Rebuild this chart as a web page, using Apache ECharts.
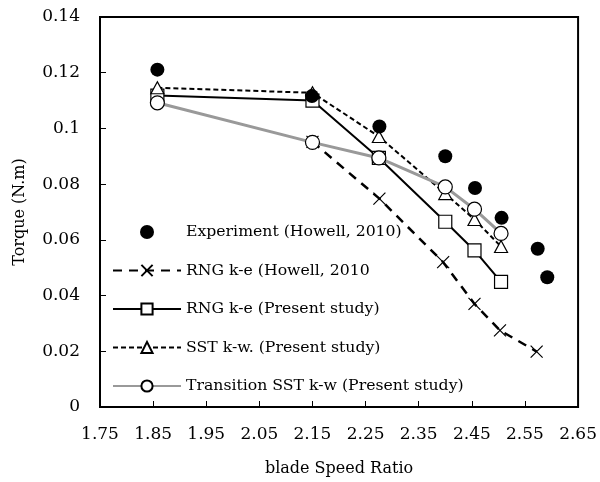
<!DOCTYPE html>
<html>
<head>
<meta charset="utf-8">
<script src="https://cdn.jsdelivr.net/npm/echarts@6/dist/echarts.min.js"></script>
<style>
  html, body { margin: 0; padding: 0; background: #fff; }
  #chart { width: 600px; height: 482px; }
</style>
</head>
<body>
<div id="chart"></div>
<script>
// Torque against blade speed ratio: measurements and four CFD models
const FONT = 'DejaVu Serif';

const expX = [1.858, 2.149, 2.276, 2.400, 2.456, 2.506, 2.574, 2.592];
const expY = [0.1211, 0.1116, 0.1007, 0.0900, 0.0786, 0.0679, 0.0568, 0.0466];

const howellX = [2.150, 2.276, 2.396, 2.455, 2.503, 2.572];
const howellY = [0.0952, 0.0748, 0.0520, 0.0370, 0.0275, 0.0199];

const modelX = [1.858, 2.150, 2.275, 2.400, 2.455, 2.505];
const rngY = [0.1118, 0.1100, 0.0894, 0.0665, 0.0562, 0.0449];
const sstY = [0.1146, 0.1128, 0.0971, 0.0766, 0.0673, 0.0576];
const transY = [0.1092, 0.0950, 0.0894, 0.0790, 0.0710, 0.0623];

const names = [
  'Experiment (Howell, 2010)',
  'RNG k-e (Howell, 2010',
  'RNG k-e (Present study)',
  'SST k-w. (Present study)',
  'Transition SST k-w (Present study)'
];

const xTicks = { min: 1.75, max: 2.65, step: 0.1 };
const yTicks = { min: 0, max: 0.14, step: 0.02 };

const pairs = (xs, ys) => xs.map((x, i) => [x, ys[i]]);
const CROSS = 'path://M0,0L10,10M10,0L0,10';

const chart = echarts.init(document.getElementById('chart'), null, { renderer: 'canvas' });

chart.setOption({
  animation: false,
  backgroundColor: '#fff',
  grid: {
    left: 100, right: 21, top: 17, bottom: 72,
    show: true, borderColor: '#000', borderWidth: 2, backgroundColor: 'transparent'
  },
  legend: {
    orient: 'vertical',
    left: 107, top: 219,
    itemWidth: 68, itemHeight: 14, itemGap: 22.5,
    textStyle: { fontFamily: FONT, fontSize: 15.7, lineHeight: 16, color: '#000' },
    data: names
  },
  xAxis: {
    type: 'value',
    min: xTicks.min, max: xTicks.max, interval: xTicks.step,
    name: 'blade Speed Ratio', nameLocation: 'middle', nameGap: 54,
    nameTextStyle: { fontFamily: FONT, fontSize: 16, color: '#000' },
    axisLine: { show: true, lineStyle: { color: '#000', width: 2 } },
    axisTick: { show: true, inside: true, length: 6, lineStyle: { color: '#000', width: 1 } },
    axisLabel: { fontFamily: FONT, fontSize: 17, color: '#000', margin: 19,
      formatter: v => v.toFixed(2) },
    splitLine: { show: false }
  },
  yAxis: {
    type: 'value',
    min: yTicks.min, max: yTicks.max, interval: yTicks.step,
    name: 'Torque (N.m)', nameLocation: 'middle', nameGap: 72,
    nameTextStyle: { fontFamily: FONT, fontSize: 16, color: '#000' },
    axisLine: { show: true, lineStyle: { color: '#000', width: 2 } },
    axisTick: { show: true, inside: true, length: 6, lineStyle: { color: '#000', width: 1 } },
    axisLabel: { fontFamily: FONT, fontSize: 17, color: '#000', margin: 20,
      formatter: v => String(Math.round(v * 100) / 100) },
    splitLine: { show: false }
  },
  series: [
    {
      name: names[1], type: 'line', data: pairs(howellX, howellY),
      symbol: CROSS, symbolSize: 12, showAllSymbol: true,
      lineStyle: { color: '#000', width: 2.5, type: [9, 7] },
      itemStyle: { color: '#000', borderColor: '#000', borderWidth: 1.2 },
      z: 2
    },
    {
      name: names[2], type: 'line', data: pairs(modelX, rngY),
      symbol: 'rect', symbolSize: 13,
      lineStyle: { color: '#000', width: 2 },
      itemStyle: { color: '#fff', borderColor: '#000', borderWidth: 1.2 },
      z: 3
    },
    {
      name: names[3], type: 'line', data: pairs(modelX, sstY),
      symbol: 'triangle', symbolSize: [13, 12],
      lineStyle: { color: '#000', width: 2, type: [5, 3] },
      itemStyle: { color: '#fff', borderColor: '#000', borderWidth: 1.2 },
      z: 4
    },
    {
      name: names[4], type: 'line', data: pairs(modelX, transY),
      symbol: 'circle', symbolSize: 14,
      lineStyle: { color: '#999', width: 3 },
      itemStyle: { color: '#fff', borderColor: '#000', borderWidth: 1.2 },
      z: 5
    },
    {
      name: names[0], type: 'scatter', data: pairs(expX, expY),
      symbol: 'circle', symbolSize: 14,
      itemStyle: { color: '#000', opacity: 1 },
      z: 6
    }
  ]
});
</script>
</body>
</html>
